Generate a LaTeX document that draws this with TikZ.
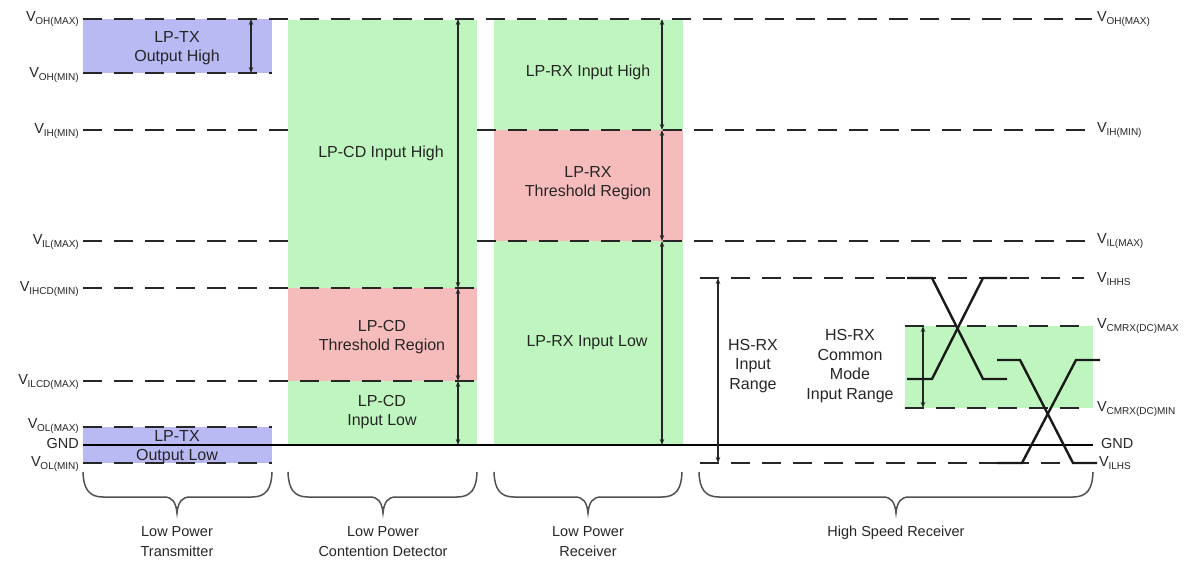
\documentclass[tikz,border=0pt]{standalone}
\usepackage{fontspec}
\setmainfont{Liberation Sans}
\usetikzlibrary{arrows.meta}
\definecolor{txblue}{HTML}{B9B9F3}
\definecolor{okgreen}{HTML}{BFF6BF}
\definecolor{thred}{HTML}{F6BCBC}
\definecolor{ink}{HTML}{262626}
\newcommand{\vsym}[1]{V\kern-0.3pt\raisebox{-0.45ex}{\fontsize{10}{11}\selectfont #1}}
\newcommand{\bracepath}[3]{%
  \draw[bracestyle] (#1,472) .. controls (#1+0.5,489) and (#1+6,497) .. (#1+20,497)
    -- (#3-13,497) .. controls (#3-5,497) and (#3-1,502) .. (#3,513)
    .. controls (#3+1,502) and (#3+5,497) .. (#3+13,497)
    -- (#2-20,497) .. controls (#2-6,497) and (#2-0.5,489) .. (#2,472);}
\begin{document}
\begin{tikzpicture}[x=1pt,y=-1pt,
  lvl/.style={draw=ink, line width=1.6pt, dash pattern=on 19pt off 12pt},
  dim/.style={{Stealth[length=6pt,width=4.5pt]}-{Stealth[length=6pt,width=4.5pt]}, line width=1.3pt, draw=ink},
  gnd/.style={draw=black, line width=2.4pt},
  wave/.style={draw=black!90, line width=2.4pt, line join=miter},
  lab/.style={font=\fontsize{16}{19.5}\selectfont, align=center, inner sep=0pt, text=ink},
  vl/.style={font=\fontsize{14.5}{16}\selectfont, inner sep=0pt, text=ink},
  bot/.style={font=\fontsize{14.5}{20}\selectfont, align=center, inner sep=0pt, text=ink, anchor=north},
  bracestyle/.style={draw=ink!80, line width=1.5pt},
]
\useasboundingbox (0,0) rectangle (1189,569);
\fill[white] (0,0) rectangle (1189,569);

% region fills
\fill[txblue] (83,19) rectangle (272,73);
\fill[txblue] (83,427) rectangle (272,463);
\fill[okgreen] (288,20) rectangle (477,445);
\fill[thred] (288,288) rectangle (477,381);
\fill[okgreen] (494,20) rectangle (683,445);
\fill[thred] (494,130) rectangle (683,241);
\fill[okgreen] (905,326) rectangle (1093,408);

% level lines
\draw[lvl] (83,19) -- (1092,19);
\draw[lvl] (83,73) -- (272,73);
\draw[lvl] (83,130) -- (288,130);
\draw[lvl] (477,130) -- (1092,130);
\draw[lvl] (83,241) -- (288,241);
\draw[lvl] (477,241) -- (1092,241);
\draw[lvl] (83,288) -- (477,288);
\draw[lvl] (83,381) -- (477,381);
\draw[lvl] (83,427) -- (272,427);
\draw[lvl] (83,463) -- (272,463);
\draw[lvl] (700,278) -- (1084,278);
\draw[lvl] (905,326) -- (1090,326);
\draw[lvl] (905,408) -- (1090,408);
\draw[lvl] (700,463) -- (1090,463);
\draw[gnd] (83,445) -- (1093,445);

% dimension arrows
\coordinate (a1t) at (251,19); \coordinate (a1b) at (251,73);
\coordinate (cd0) at (458,19); \coordinate (cd1) at (458,288);
\coordinate (cd2) at (458,381); \coordinate (cd3) at (458,445);
\coordinate (rx0) at (662,19); \coordinate (rx1) at (662,130);
\coordinate (rx2) at (662,241); \coordinate (rx3) at (662,445);
\coordinate (hs0) at (718,278); \coordinate (hs1) at (718,463);
\coordinate (cm0) at (923,326); \coordinate (cm1) at (923,408);
\draw[dim] (a1t) -- (a1b);
\draw[dim] (cd0) -- (cd1);
\draw[dim] (cd1) -- (cd2);
\draw[dim] (cd2) -- (cd3);
\draw[dim] (rx0) -- (rx1);
\draw[dim] (rx1) -- (rx2);
\draw[dim] (rx2) -- (rx3);
\draw[dim] (hs0) -- (hs1);
\draw[dim] (cm0) -- (cm1);

% HS waveforms
\draw[wave] (907,379) -- (932,379) -- (983,278) -- (1007,278);
\draw[wave] (907,278) -- (932,278) -- (983,379) -- (1007,379);
\draw[wave] (997,360) -- (1020,360) -- (1073,463) -- (1097,463);
\draw[wave] (997,463) -- (1022,463) -- (1076,360) -- (1100,360);

% region labels
\node[lab] (txh) at (177,48) {LP-TX\\Output High};
\node[lab] (cdh) at (381,153) {LP-CD Input High};
\node[lab] (cdt) at (382,337) {LP-CD\\Threshold Region};
\node[lab] (cdl) at (382,412) {LP-CD\\Input Low};
\node[lab] (rxh) at (588,72) {LP-RX Input High};
\node[lab] (rxt) at (588,183) {LP-RX\\Threshold Region};
\node[lab] (rxl) at (587,343) {LP-RX Input Low};
\node[lab] (txl) at (177,447) {LP-TX\\Output Low};
\node[lab] (hsr) at (753,366) {HS-RX\\Input\\Range};
\node[lab] (cmr) at (850,366) {HS-RX\\Common\\Mode\\Input Range};

% left level labels
\node[vl, anchor=east] (l1) at (79,19) {\vsym{OH(MAX)}};
\node[vl, anchor=east] (l2) at (79,75) {\vsym{OH(MIN)}};
\node[vl, anchor=east] (l3) at (79,131) {\vsym{IH(MIN)}};
\node[vl, anchor=east] (l4) at (79,242) {\vsym{IL(MAX)}};
\node[vl, anchor=east] (l5) at (79,289) {\vsym{IHCD(MIN)}};
\node[vl, anchor=east] (l6) at (79,382) {\vsym{ILCD(MAX)}};
\node[vl, anchor=east] (l7) at (79,426) {\vsym{OL(MAX)}};
\node[vl, anchor=east] (l8) at (79,444) {GND};
\node[vl, anchor=east] (l9) at (79,464) {\vsym{OL(MIN)}};

% right level labels
\node[vl, anchor=west] (r1) at (1097,19) {\vsym{OH(MAX)}};
\node[vl, anchor=west] (r2) at (1097,130) {\vsym{IH(MIN)}};
\node[vl, anchor=west] (r3) at (1097,241) {\vsym{IL(MAX)}};
\node[vl, anchor=west] (r4) at (1097,279) {\vsym{IHHS}};
\node[vl, anchor=west] (r5) at (1097,326) {\vsym{CMRX(DC)MAX}};
\node[vl, anchor=west] (r6) at (1097,409) {\vsym{CMRX(DC)MIN}};
\node[vl, anchor=west] (r7) at (1101,444) {GND};
\node[vl, anchor=west] (r8) at (1099,463) {\vsym{ILHS}};

% braces
\bracepath{83}{272}{177}
\bracepath{288}{477}{383}
\bracepath{494}{682}{588}
\bracepath{699}{1093}{896}

% bottom labels
\node[bot] (b1) at (177,526) {Low Power\\Transmitter};
\node[bot] (b2) at (383,526) {Low Power\\Contention Detector};
\node[bot] (b3) at (588,526) {Low Power\\Receiver};
\node[bot] (b4) at (896,526) {High Speed Receiver};
\end{tikzpicture}
\end{document}
